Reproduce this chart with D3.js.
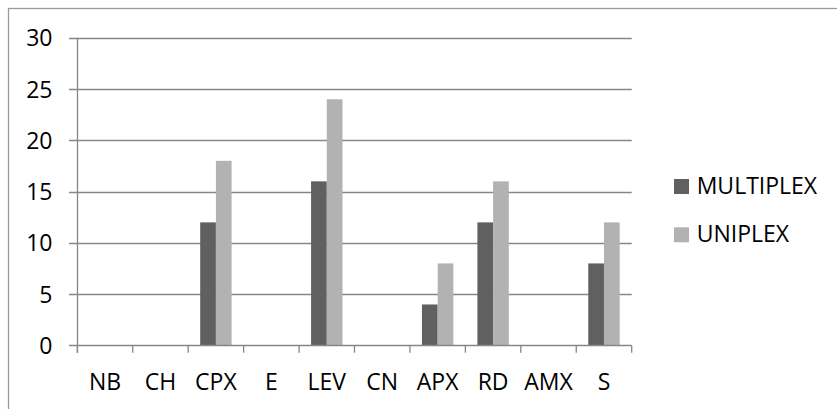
<!DOCTYPE html>
<html>
<head>
<meta charset="utf-8">
<script src="https://cdn.jsdelivr.net/npm/d3@7"></script>
<style>
html,body{margin:0;padding:0;background:#fff;}
svg{display:block;}
text{font-family:"Open Sans",sans-serif;fill:#000;}
</style>
</head>
<body>
<svg id="chart" width="837" height="409"></svg>
<script>
const categories = ["NB","CH","CPX","E","LEV","CN","APX","RD","AMX","S"];
const seriesNames = ["MULTIPLEX","UNIPLEX"];
const multiplex = [0,0,12,0,16,0,4,12,0,8];
const uniplex   = [0,0,18,0,24,0,8,16,0,12];
const yTicks = [0,5,10,15,20,25,30];
const colors = ["#606060","#b2b2b2"];

const svg = d3.select("#chart");
const fs = 23;

// outer border
svg.append("rect").attr("x",8.5).attr("y",8.5).attr("width",837).attr("height",409)
  .attr("fill","none").attr("stroke","#9a9a9a").attr("stroke-width",1.3);

const x0 = d3.scaleBand().domain(categories).range([77.3,631.7]).padding(0);
const x1 = d3.scaleBand().domain(seriesNames).range([0,x0.bandwidth()]).paddingInner(0).paddingOuter(0.765);
const y = d3.scaleLinear().domain([0,30]).range([345.5,37.7]);

// gridlines
svg.append("g").selectAll("line").data(yTicks.filter(d=>d>0)).join("line")
  .attr("x1",69).attr("x2",631.7)
  .attr("y1",d=>Math.round(y(d))+0.5).attr("y2",d=>Math.round(y(d))+0.5)
  .attr("stroke","#868686").attr("stroke-width",1.3);

// bars
const data = categories.map((c,i)=>({cat:c, vals:[multiplex[i],uniplex[i]]}));
const g = svg.append("g");
data.forEach(d=>{
  d.vals.forEach((v,j)=>{
    if(v<=0) return;
    g.append("rect")
      .attr("x",x0(d.cat)+x1(seriesNames[j]))
      .attr("y",y(v))
      .attr("width",x1.bandwidth())
      .attr("height",y(0)-y(v))
      .attr("fill",colors[j]);
  });
});

// y axis line and zero line
svg.append("line").attr("x1",77.5).attr("x2",77.5).attr("y1",y(30)).attr("y2",352.7)
  .attr("stroke","#868686").attr("stroke-width",1.3);
svg.append("line").attr("x1",69).attr("x2",631.7).attr("y1",345.5).attr("y2",345.5)
  .attr("stroke","#868686").attr("stroke-width",1.3);

// x ticks at band boundaries
const bounds = categories.map(c=>x0(c)).concat([x0.range()[1]]);
svg.append("g").selectAll("line").data(bounds).join("line")
  .attr("x1",d=>d).attr("x2",d=>d).attr("y1",345.5).attr("y2",352.7)
  .attr("stroke","#868686").attr("stroke-width",1.3);

// y labels
svg.append("g").selectAll("text").data(yTicks).join("text")
  .attr("x",52.5).attr("y",d=>y(d)+8.5)
  .attr("text-anchor","end").attr("font-size",fs)
  .text(d=>d);

// x labels
svg.append("g").selectAll("text").data(categories).join("text")
  .attr("x",d=>x0(d)+x0.bandwidth()/2).attr("y",390)
  .attr("text-anchor","middle").attr("font-size",fs)
  .text(d=>d);

// legend
const legY = [194,242.3];
seriesNames.forEach((s,i)=>{
  svg.append("rect").attr("x",674).attr("y",legY[i]-15).attr("width",15).attr("height",15).attr("fill",colors[i]);
  svg.append("text").attr("x",696.7).attr("y",legY[i]).attr("font-size",fs).text(s);
});
</script>
</body>
</html>
